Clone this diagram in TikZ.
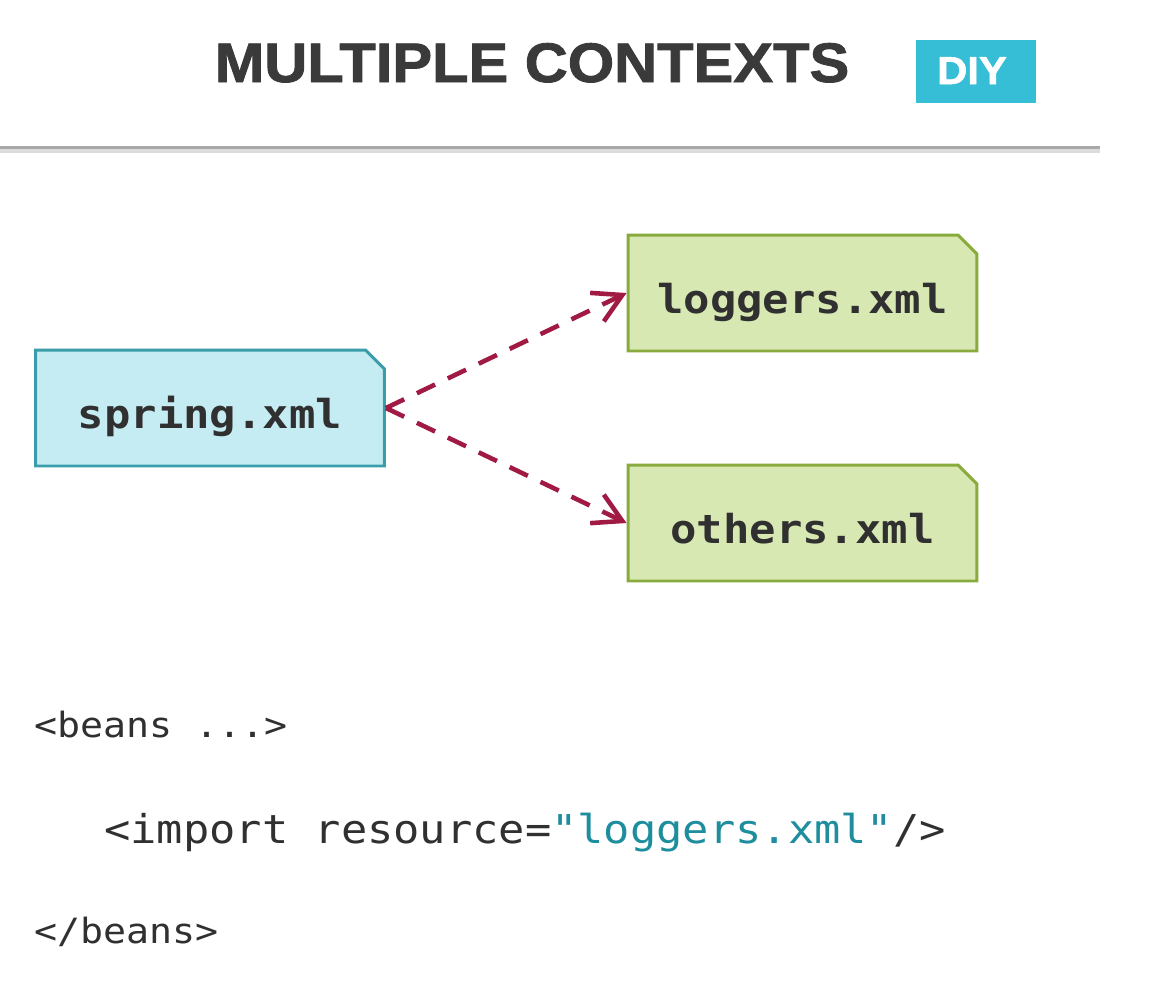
\documentclass[tikz,border=0pt]{standalone}
\usepackage{fontspec}
\setmainfont{Liberation Sans}
\newfontfamily\titlefont[BoldFeatures={FakeBold=1.5}]{Liberation Sans}
\newfontfamily\codefont[FakeStretch=1.1]{DejaVu Sans Mono}
\usetikzlibrary{shapes.misc,arrows.meta}
\definecolor{titlegray}{HTML}{3A3A3A}
\definecolor{diyblue}{HTML}{35BED6}
\definecolor{springfill}{HTML}{C6ECF3}
\definecolor{springdraw}{HTML}{3A9DAC}
\definecolor{greenfill}{HTML}{D8E8B2}
\definecolor{greendraw}{HTML}{89AA3C}
\definecolor{arrowred}{HTML}{A01A43}
\definecolor{codegray}{HTML}{303030}
\definecolor{codeteal}{HTML}{1E8E9E}
\definecolor{rulegray}{HTML}{A8A8A8}
\definecolor{ruleshadow}{HTML}{DCDCDC}
\begin{document}
\begin{tikzpicture}[x=0.02cm,y=-0.02cm,
  filebox/.style={shape=chamfered rectangle, chamfered rectangle corners=north east,
    chamfered rectangle sep=5.4pt, minimum width=6.98cm, minimum height=2.32cm,
    inner sep=0pt, line width=1.7pt, text height=23pt, text depth=0pt,
    font=\codefont\bfseries\fontsize{22.7}{26}\selectfont, text=codegray},
  springbox/.style={filebox, fill=springfill, draw=springdraw},
  greenbox/.style={filebox, fill=greenfill, draw=greendraw},
  dasharrow/.style={draw=arrowred, line width=2.6pt, dash pattern=on 11.5pt off 8pt,
    -{Straight Barb[length=16pt,width=18pt]}},
  codeline/.style={anchor=base west, inner sep=0pt, text=codegray}
]
\useasboundingbox (0,0) rectangle (1156,995);
\fill[white] (0,0) rectangle (1156,995);
% title
\node[anchor=base, inner sep=0pt, text=titlegray, font=\titlefont\bfseries\fontsize{31.7}{36}\selectfont] (title) at (532,82) {\scalebox{1.07}[1]{MULTIPLE CONTEXTS}};
\node[fill=diyblue, minimum width=2.4cm, minimum height=1.26cm, inner sep=0pt] (diy) at (976,71.5) {};
\node[anchor=base, inner sep=0pt, text=white, font=\titlefont\bfseries\fontsize{22.2}{26}\selectfont] (diytext) at (972,84) {\scalebox{1.07}[1]{DIY}};
% rule
\coordinate (rl) at (0,151);
\coordinate (rr) at (1100,151);
\draw[ruleshadow, line width=2.5pt] (rl) -- (rr);
\coordinate (rl2) at (0,147.5);
\coordinate (rr2) at (1100,147.5);
\draw[rulegray, line width=1.7pt] (rl2) -- (rr2);
% boxes
\node[springbox] (spring) at (210,408) {spring.xml};
\node[greenbox] (loggers) at (802.5,293) {loggers.xml};
\node[greenbox] (others) at (802.5,523) {others.xml};
% connectors
\draw[dasharrow] (spring.east) -- (loggers.west);
\draw[dasharrow] (spring.east) -- (others.west);
% code
\node[codeline, font=\codefont\fontsize{19.8}{24}\selectfont] (c1) at (34,737) {<beans ...>};
\node[codeline, font=\codefont\fontsize{22.6}{26}\selectfont] (c2) at (104,843) {<import resource=\textcolor{codeteal}{"loggers.xml"}/>};
\node[codeline, font=\codefont\fontsize{19.8}{24}\selectfont] (c3) at (34,943) {</beans>};
\end{tikzpicture}
\end{document}
